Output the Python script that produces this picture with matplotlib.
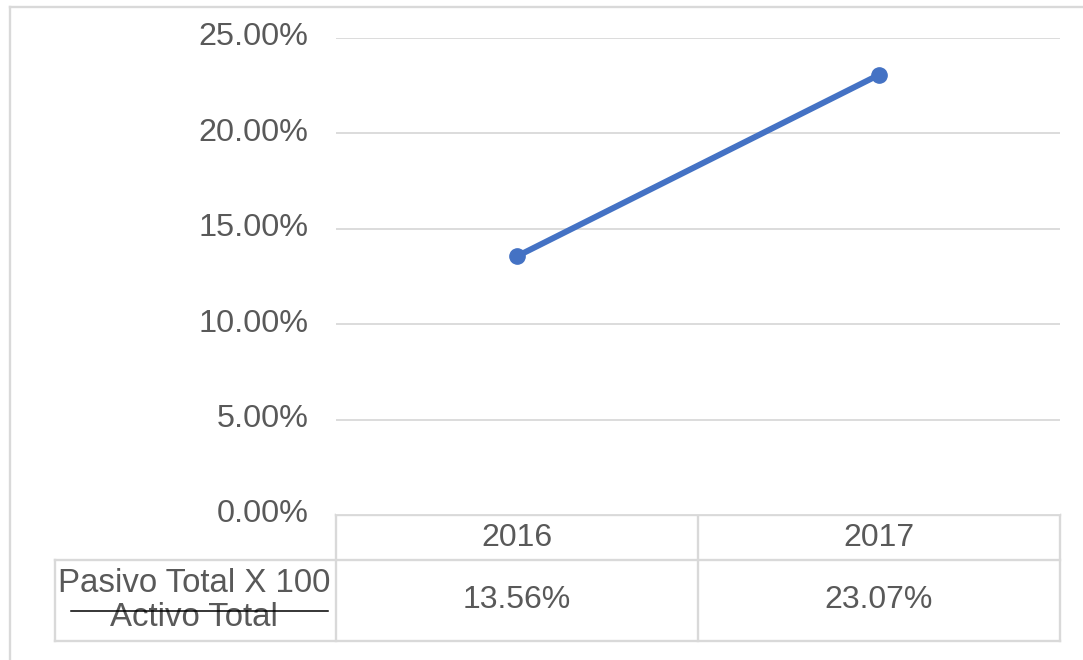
import matplotlib
matplotlib.use("Agg")
import matplotlib.pyplot as plt
from matplotlib.ticker import FuncFormatter
from matplotlib.transforms import ScaledTranslation

categories = ["2016", "2017"]
values = [13.56, 23.07]
row_label_top = "Pasivo Total X 100"
row_label_bottom = "Activo Total"
yticks = [0, 5, 10, 15, 20, 25]

W, H = 1083, 660
TXT = "#595959"
GRID = "#d9d9d9"
BLUE = "#4472c4"
plt.rcParams['font.family'] = ['Liberation Sans', 'DejaVu Sans']

fig = plt.figure(figsize=(W / 100, H / 100), dpi=100)

# plot area in pixel coordinates
L, R, T, B = 336, 1060, 38, 515
ax = fig.add_axes([L / W, 1 - B / H, (R - L) / W, (B - T) / H])
ax.set_xlim(-0.5, len(categories) - 0.5)
ax.set_ylim(0, 25)
ax.set_yticks(yticks)
ax.yaxis.set_major_formatter(FuncFormatter(lambda v, p: f"{v:.2f}%"))
ax.tick_params(axis='y', length=0, pad=20, labelsize=23.3, labelcolor=TXT)
ax.set_xticks([])
ax.grid(axis='y', color=GRID, linewidth=1.3)
ax.set_axisbelow(True)
for s in ax.spines.values():
    s.set_visible(False)
off = ScaledTranslation(0, 4 / 100, fig.dpi_scale_trans)
for lab in ax.get_yticklabels():
    lab.set_transform(lab.get_transform() + off)
ax.plot(range(len(categories)), values, color=BLUE, linewidth=4.3,
        marker='o', markersize=11, solid_capstyle='round', zorder=3)

# overlay for table and border in pixel coordinates
ov = fig.add_axes([0, 0, 1, 1], zorder=-1)
ov.set_xlim(0, W)
ov.set_ylim(H, 0)
ov.axis('off')

lw = 1.7
# outer border (top and left)
ov.plot([10, W], [7, 7], color=GRID, lw=lw)
ov.plot([10, 10], [7, H], color=GRID, lw=lw)

# data table
n = len(categories)
colw = (R - L) / n
row1_top, row1_bot, row2_bot = B, 560, 641
label_left = 55
ov.plot([L, R], [row1_top, row1_top], color=GRID, lw=lw)
ov.plot([label_left, R], [row1_bot, row1_bot], color=GRID, lw=lw)
ov.plot([label_left, R], [row2_bot, row2_bot], color=GRID, lw=lw)
ov.plot([label_left, label_left], [row1_bot, row2_bot], color=GRID, lw=lw)
for i in range(n + 1):
    x = L + i * colw
    ov.plot([x, x], [row1_top, row2_bot], color=GRID, lw=lw)

for i, (c, v) in enumerate(zip(categories, values)):
    cx = L + (i + 0.5) * colw
    ov.text(cx, (row1_top + row1_bot) / 2 + 1, c, ha='center', va='center',
            fontsize=23, color=TXT)
    ov.text(cx, (row1_bot + row2_bot) / 2, f"{v:.2f}%", ha='center', va='center',
            fontsize=23, color=TXT)

ov.text(194, 583, row_label_top, ha='center', va='center', fontsize=23.8, color=TXT)
ov.text(194, 617, row_label_bottom, ha='center', va='center', fontsize=23.8, color=TXT)
ov.plot([71, 328], [611, 611], color='black', lw=1.1, zorder=5)

fig.savefig("out.png", dpi=100, facecolor='white')
